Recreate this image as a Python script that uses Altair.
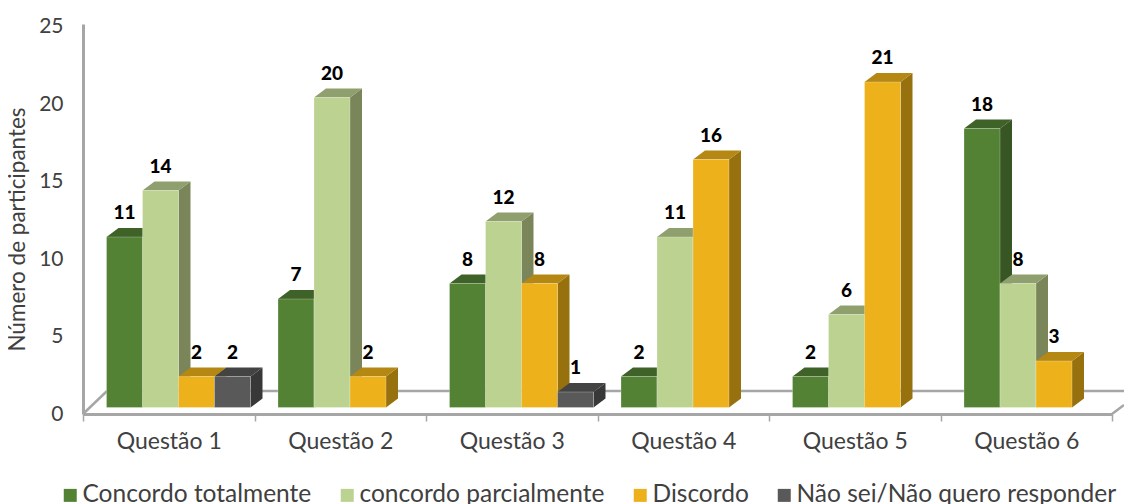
import altair as alt
import pandas as pd

categories = ["Questão 1", "Questão 2", "Questão 3", "Questão 4", "Questão 5", "Questão 6"]
series = ["Concordo totalmente", "concordo parcialmente", "Discordo", "Não sei/Não quero responder"]
concordo_totalmente = [11, 7, 8, 2, 2, 18]
concordo_parcialmente = [14, 20, 12, 11, 6, 8]
discordo = [2, 2, 8, 16, 21, 3]
nao_sei = [2, None, 1, None, None, None]
front_colors = ["#548235", "#BBD291", "#EDB11B", "#595959"]
top_colors = ["#3F6228", "#8F9F6D", "#B58713", "#434343"]
side_colors = ["#375623", "#7A8559", "#98710F", "#383838"]

FONT = "Lato"
GRAY = "#A6A6A6"
TEXT = "#404040"
X_DOMAIN = [0, 1041 / 171.5]
Y_DOMAIN = [0, 390 / 15.5]
BAR_START = 23.5 / 171.5
BAR_W = 36 / 171.5
DX = 12 / 171.5
DY = 9 / 15.5
BASE = 6.5 / 15.5
LABEL_UP = 24 / 15.5

x_scale = alt.Scale(domain=X_DOMAIN, range=[0, 1041], nice=False, zero=False)
y_scale = alt.Scale(domain=Y_DOMAIN, nice=False, zero=False)

fronts, sides, tops, labels = [], [], [], []
all_values = [concordo_totalmente, concordo_parcialmente, discordo, nao_sei]
for c in range(len(categories)):
    for s, vals in enumerate(all_values):
        v = vals[c]
        if v is None:
            continue
        bid = f"{c}-{s}"
        x0 = c + BAR_START + s * BAR_W
        x1 = x0 + BAR_W
        top = v + BASE
        fronts.append(dict(x=x0, x2=x1, y=BASE, y2=top, serie=series[s]))
        sides.append(dict(id=bid, x=x1, y=BASE, y2=top, fill=side_colors[s]))
        sides.append(dict(id=bid, x=x1 + DX, y=BASE + DY, y2=top + DY, fill=side_colors[s]))
        tops.append(dict(id=bid, y=top, x=x0, x2=x1, fill=top_colors[s]))
        tops.append(dict(id=bid, y=top + DY, x=x0 + DX, x2=x1 + DX, fill=top_colors[s]))
        labels.append(dict(x=(x0 + x1) / 2, y=top + LABEL_UP, t=str(v)))

X = alt.X("x:Q", scale=x_scale, axis=None)
y_axis = alt.Axis(title="Número de participantes", values=[0, 5, 10, 15, 20, 25], ticks=False, grid=False,
                  domainColor=GRAY, domainWidth=3, labelColor=TEXT, labelFont=FONT, labelFontSize=21,
                  labelPadding=20, titleColor=TEXT, titleFont=FONT, titleFontSize=22.5,
                  titleFontWeight="normal", titleX=-54, titleY=205)
Y = alt.Y("y:Q", scale=y_scale, axis=y_axis)

axis_layer = alt.Chart(pd.DataFrame({"q": categories, "y": [0] * 6})).mark_point(opacity=0).encode(
    x=alt.X("q:N", sort=categories,
            scale=alt.Scale(type="band", domain=categories, range=[0, 1029], paddingInner=0, paddingOuter=0),
            axis=alt.Axis(title=None, tickBand="extent", labelAngle=0, tickColor=GRAY, tickSize=7, tickWidth=1.5,
                          domainColor=GRAY, domainWidth=3, labelColor=TEXT, labelFont=FONT, labelFontSize=23,
                          labelFontWeight="normal", labelPadding=9, grid=False)),
    y=Y,
)

floor_back = alt.Chart(pd.DataFrame({"x": [0.14, X_DOMAIN[1]], "y": [23 / 15.5, 23 / 15.5]})).mark_line(
    color=GRAY, strokeWidth=2.5).encode(x=X, y=Y)
floor_left = alt.Chart(pd.DataFrame({"x": [0, 0.14], "y": [0, 23 / 15.5]})).mark_line(
    color=GRAY, strokeWidth=2.5).encode(x=X, y=Y)
floor_right = alt.Chart(pd.DataFrame({"x": [6, X_DOMAIN[1]], "y": [0, 9 / 15.5]})).mark_line(
    color=GRAY, strokeWidth=2.5).encode(x=X, y=Y)

side_layer = alt.Chart(pd.DataFrame(sides)).mark_area(opacity=1).encode(
    x=X, y=Y, y2="y2:Q", detail="id:N", fill=alt.Fill("fill:N", scale=None))
top_layer = alt.Chart(pd.DataFrame(tops)).mark_area(orient="horizontal", opacity=1).encode(
    y=Y, x=X, x2="x2:Q", detail="id:N", fill=alt.Fill("fill:N", scale=None))
front_layer = alt.Chart(pd.DataFrame(fronts)).mark_rect(stroke="#FFFFFF", strokeOpacity=0.25, strokeWidth=1).encode(
    x=X, x2="x2:Q", y=Y, y2="y2:Q",
    color=alt.Color("serie:N", sort=series, scale=alt.Scale(domain=series, range=front_colors),
                    legend=alt.Legend(orient="none", legendX=-29, legendY=459, direction="horizontal", columns=4,
                                      title=None, symbolType="square", symbolSize=169, symbolStrokeWidth=0,
                                      symbolOffset=4,
                                      labelFont=FONT, labelFontSize=24.5, labelColor=TEXT, columnPadding=19,
                                      labelOffset=0, labelLimit=400)))
label_layer = alt.Chart(pd.DataFrame(labels)).mark_text(
    font=FONT, fontSize=19, fontWeight=900, color="#000000", baseline="middle", align="center").encode(
    x=X, y=Y, text="t:N")

chart = alt.layer(axis_layer, floor_back, floor_left, floor_right, side_layer, top_layer, front_layer, label_layer
    ).resolve_scale(x="independent").properties(
    width=1041, height=390,
    autosize=alt.AutoSizeParams(type="none"),
    padding={"left": 75, "top": 16, "right": 0, "bottom": 90},
).configure_view(stroke=None)

chart.save("out.html", embed_options={"renderer": "svg", "actions": False})
